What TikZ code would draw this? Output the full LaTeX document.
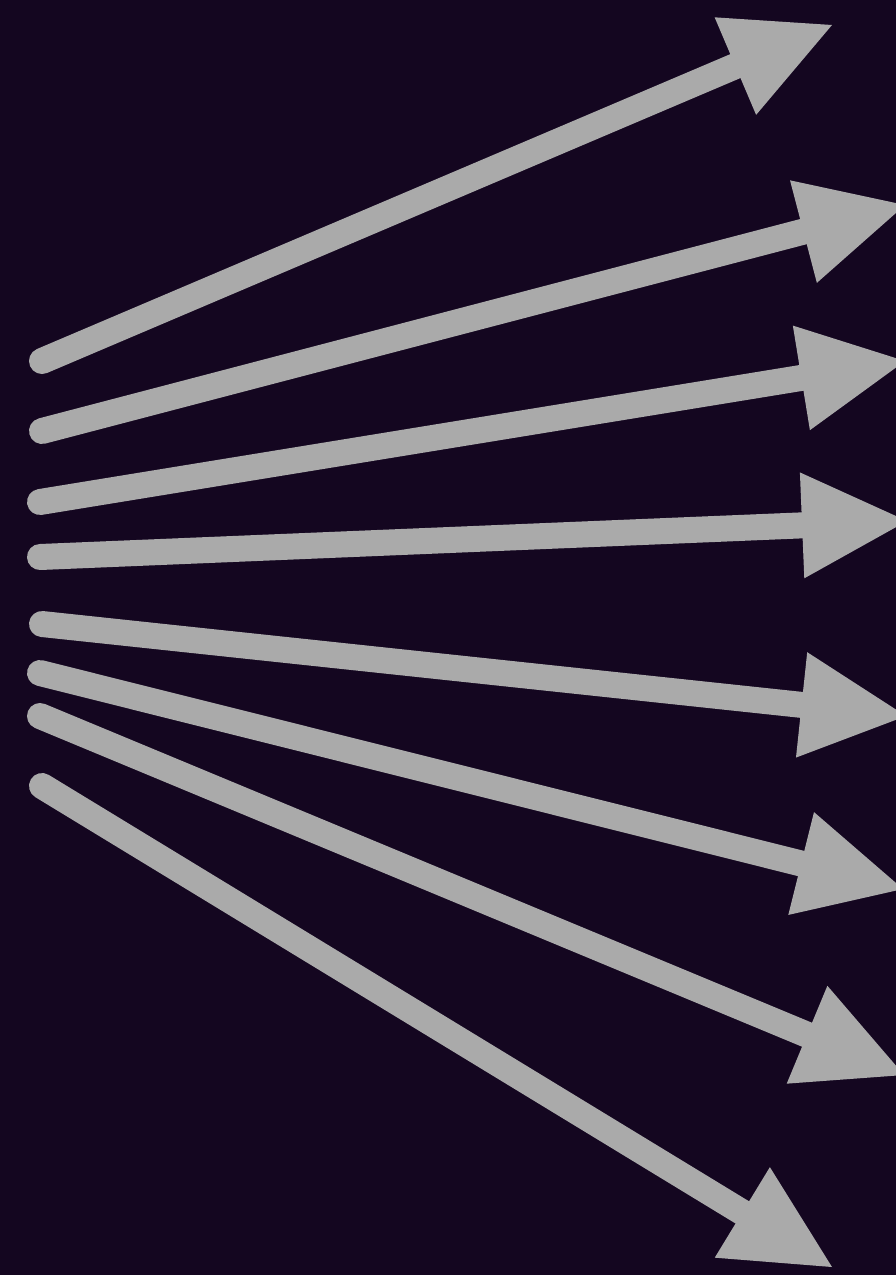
\documentclass[tikz,border=0pt]{standalone}
\usetikzlibrary{arrows.meta}
\definecolor{bgpurple}{RGB}{20,6,32}
\definecolor{arrowgray}{RGB}{170,170,170}
\tikzset{
  ray/.style={draw=arrowgray, line width=26pt, line cap=round,
    -{Triangle[length=105pt,width=106pt,line width=0pt]}}
}
\begin{document}
\begin{tikzpicture}[x=1pt,y=-1pt]
  \fill[bgpurple] (0,0) rectangle (896,1275);
  \useasboundingbox (0,0) rectangle (896,1275);
  \clip (0,0) rectangle (896,1275);
  % start points
  \coordinate (s1) at (42,361);
  \coordinate (s2) at (42,431);
  \coordinate (s3) at (40,502);
  \coordinate (s4) at (40,557);
  \coordinate (s5) at (42,624);
  \coordinate (s6) at (40,673);
  \coordinate (s7) at (40,716);
  \coordinate (s8) at (42,786);
  % tips
  \coordinate (t1) at (832,25);
  \coordinate (t2) at (905,205);
  \coordinate (t3) at (905,361);
  \coordinate (t4) at (907,521);
  \coordinate (t5) at (906,716);
  \coordinate (t6) at (903,889);
  \coordinate (t7) at (904,1075);
  \coordinate (t8) at (832,1267);
  \foreach \i in {1,...,8} {
    \draw[ray] (s\i) -- (t\i);
  }
\end{tikzpicture}
\end{document}
